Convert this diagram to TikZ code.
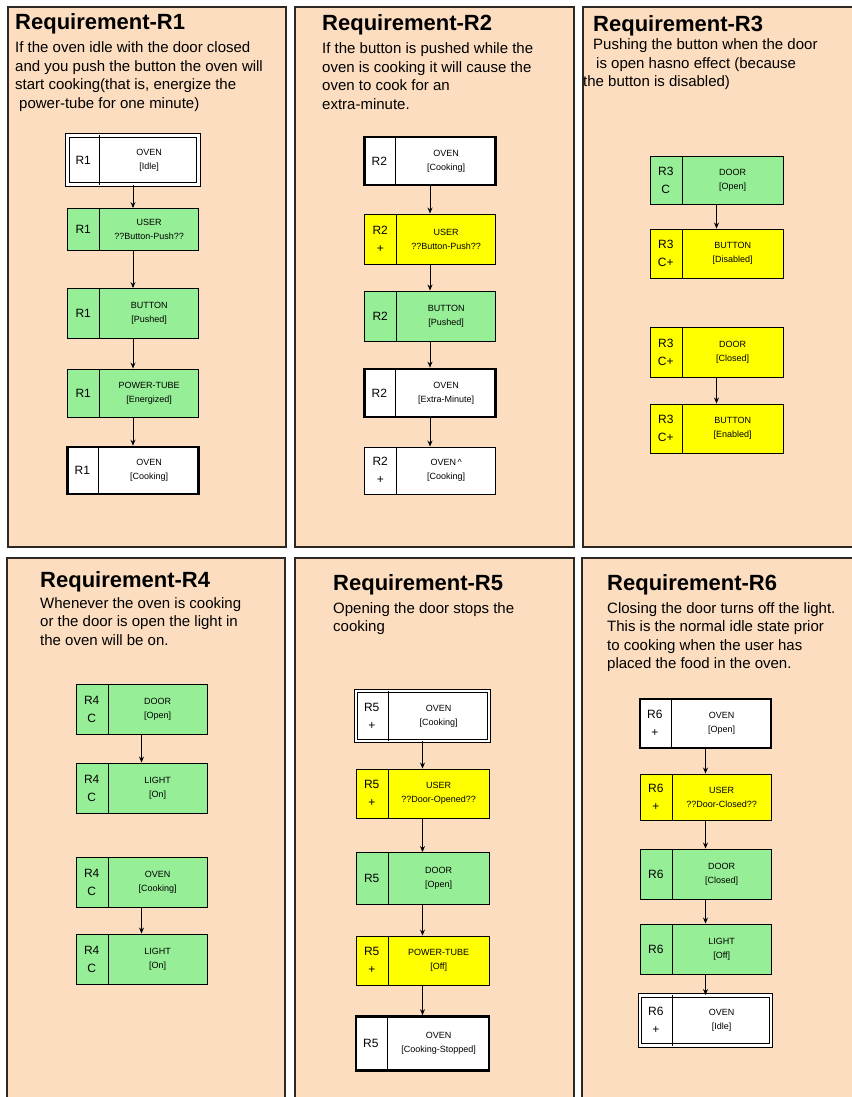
\documentclass[tikz,border=0pt]{standalone}
\usepackage{fontspec}
\setmainfont{Liberation Sans}
\usetikzlibrary{calc, arrows.meta}

\definecolor{peach}{RGB}{252,221,192}
\definecolor{stategreen}{RGB}{150,238,150}
\definecolor{stateyellow}{RGB}{255,255,0}
\definecolor{rim}{RGB}{45,40,35}

\tikzset{
  panel/.style={draw=rim, line width=1.3pt, fill=peach},
  title/.style={anchor=base west, inner sep=0pt, font=\bfseries\fontsize{22}{24}\selectfont},
  blurb/.style={anchor=base west, inner sep=0pt, font=\fontsize{15}{18.5}\selectfont},
  box/.style={draw=black, line width=0.9pt, minimum width=131pt, inner sep=0pt},
  whitebox/.style={fill=white},
  greenbox/.style={fill=stategreen},
  yellowbox/.style={fill=stateyellow},
  heavy/.style={line width=2.6pt},
  twin/.style={double=white, double distance=2.4pt, line width=0.9pt},
  idcell/.style={minimum width=32pt, inner sep=0pt, align=center, font=\fontsize{12}{18}\selectfont},
  boxtext/.style={inner sep=0pt, align=center, font=\fontsize{9}{14}\selectfont},
  flow/.style={->, line width=1pt, draw=black}
}

% name, style, x, y, height, id, text
\newcommand{\statebox}[7]{%
  \node[box, #2, minimum height=#5pt] (#1) at (#3,#4) {};
  \node[idcell, minimum height=#5pt, anchor=west] (#1-id) at (#1.west) {#6};
  \draw[line width=0.9pt] (#1-id.north east) -- (#1-id.south east);
  \node[boxtext] (#1-txt) at ($(#1-id.east)!0.5!(#1.east)$) {#7};
}

\begin{document}
\begin{tikzpicture}[x=1pt, y=-1pt, >={Stealth[length=6pt, width=5pt]}]
  \useasboundingbox (0,0) rectangle (851,1097);
  \fill[white] (0,0) rectangle (851,1097);

  % Panels
  \draw[panel] (8,7) rectangle (286,547);
  \draw[panel] (295,7) rectangle (574,547);
  \draw[panel] (583,7) rectangle (856,547);
  \draw[panel] (7,558) rectangle (285,1102);
  \draw[panel] (295,558) rectangle (574,1102);
  \draw[panel] (582,558) rectangle (856,1102);

  % Requirement R1
  \node[title] (t1) at (15,30) {Requirement-R1};
  \node[blurb] (b1) at (15,53) {\begin{tabular}[t]{@{}l@{}}If the oven idle with the door closed\\
    and you push the button the oven will\\
    start  cooking(that is, energize the\\
    \hspace*{4pt}power-tube for one minute)\end{tabular}};
  \statebox{p1a}{whitebox, twin}{133}{160}{49}{R1}{OVEN\\{[Idle]}}
  \statebox{p1b}{greenbox}{133}{229.5}{42}{R1}{USER\\{??Button-Push??}}
  \statebox{p1c}{greenbox}{133}{313.5}{50}{R1}{BUTTON\\{[Pushed]}}
  \statebox{p1d}{greenbox}{133}{393}{48}{R1}{POWER-TUBE\\{[Energized]}}
  \statebox{p1e}{whitebox, heavy}{133}{470.5}{47}{R1}{OVEN\\{[Cooking]}}
  \draw[flow] (p1a.south) -- (p1b.north);
  \draw[flow] (p1b.south) -- (p1c.north);
  \draw[flow] (p1c.south) -- (p1d.north);
  \draw[flow] (p1d.south) -- (p1e.north);

  % Requirement R2
  \node[title] (t2) at (322,31) {Requirement-R2};
  \node[blurb] (b2) at (322,54) {\begin{tabular}[t]{@{}l@{}}If the button is pushed while the\\
    oven is cooking it will cause the\\
    oven to cook for an\\
    extra-minute.\end{tabular}};
  \statebox{p2a}{whitebox, heavy}{430}{161}{48}{R2}{OVEN\\{[Cooking]}}
  \statebox{p2b}{yellowbox}{430}{239}{50}{R2\\+}{USER\\{??Button-Push??}}
  \statebox{p2c}{greenbox}{430}{316}{50}{R2}{BUTTON\\{[Pushed]}}
  \statebox{p2d}{whitebox, heavy}{430}{393}{48}{R2}{OVEN\\{[Extra-Minute]}}
  \statebox{p2e}{whitebox}{430}{470.5}{47}{R2\\+}{OVEN\,\textasciicircum\\{[Cooking]}}
  \draw[flow] (p2a.south) -- (p2b.north);
  \draw[flow] (p2b.south) -- (p2c.north);
  \draw[flow] (p2c.south) -- (p2d.north);
  \draw[flow] (p2d.south) -- (p2e.north);

  % Requirement R3
  \node[title] (t3) at (593,32) {Requirement-R3};
  \node[blurb] (b3) at (593,50) {\begin{tabular}[t]{@{}l@{}}Pushing the button when the door\\
    \hspace*{3pt}is open hasno effect  (because\\
    \hspace*{-10pt}the button is disabled)\end{tabular}};
  \statebox{p3a}{greenbox, minimum width=133pt}{716.5}{180}{48}{R3\\C}{DOOR\\{[Open]}}
  \statebox{p3b}{yellowbox, minimum width=133pt}{716.5}{253.5}{49}{R3\\C+}{BUTTON\\{[Disabled]}}
  \statebox{p3c}{yellowbox, minimum width=133pt}{716.5}{352}{50}{R3\\C+}{DOOR\\{[Closed]}}
  \statebox{p3d}{yellowbox, minimum width=133pt}{716.5}{428.5}{49}{R3\\C+}{BUTTON\\{[Enabled]}}
  \draw[flow] (p3a.south) -- (p3b.north);
  \draw[flow] (p3c.south) -- (p3d.north);

  % Requirement R4
  \node[title] (t4) at (40,587) {Requirement-R4};
  \node[blurb] (b4) at (40,608) {\begin{tabular}[t]{@{}l@{}}Whenever the oven is cooking\\
    or the door is open the light in\\
    the oven will be on.\end{tabular}};
  \statebox{p4a}{greenbox}{141.5}{709}{50}{R4\\C}{DOOR\\{[Open]}}
  \statebox{p4b}{greenbox}{141.5}{788}{50}{R4\\C}{LIGHT\\{[On]}}
  \statebox{p4c}{greenbox}{141.5}{882}{50}{R4\\C}{OVEN\\{[Cooking]}}
  \statebox{p4d}{greenbox}{141.5}{959}{50}{R4\\C}{LIGHT\\{[On]}}
  \draw[flow] (p4a.south) -- (p4b.north);
  \draw[flow] (p4c.south) -- (p4d.north);

  % Requirement R5
  \node[title] (t5) at (333,590) {Requirement-R5};
  \node[blurb] (b5) at (333,613) {\begin{tabular}[t]{@{}l@{}}Opening the door stops the\\
    cooking\end{tabular}};
  \statebox{p5a}{whitebox, twin, minimum width=133pt}{422.5}{716}{50}{R5\\+}{OVEN\\{[Cooking]}}
  \statebox{p5b}{yellowbox, minimum width=133pt}{422.5}{793.5}{49}{R5\\+}{USER\\{??Door-Opened??}}
  \statebox{p5c}{greenbox, minimum width=133pt}{422.5}{878.5}{52}{R5}{DOOR\\{[Open]}}
  \statebox{p5d}{yellowbox, minimum width=133pt}{422.5}{960.5}{49}{R5\\+}{POWER-TUBE\\{[Off]}}
  \statebox{p5e}{whitebox, heavy, minimum width=133pt}{422.5}{1043.5}{54}{R5}{OVEN\\{[Cooking-Stopped]}}
  \draw[flow] (p5a.south) -- (p5b.north);
  \draw[flow] (p5b.south) -- (p5c.north);
  \draw[flow] (p5c.south) -- (p5d.north);
  \draw[flow] (p5d.south) -- (p5e.north);

  % Requirement R6
  \node[title] (t6) at (607,590) {Requirement-R6};
  \node[blurb] (b6) at (607,613) {\begin{tabular}[t]{@{}l@{}}Closing the door turns off the light.\\
    This is the normal idle state prior\\
    to cooking when the user has\\
    placed the food in the oven.\end{tabular}};
  \statebox{p6a}{whitebox, heavy}{705.5}{723.5}{49}{R6\\+}{OVEN\\{[Open]}}
  \statebox{p6b}{yellowbox}{705.5}{797}{46}{R6\\+}{USER\\{??Door-Closed??}}
  \statebox{p6c}{greenbox}{705.5}{874}{50}{R6}{DOOR\\{[Closed]}}
  \statebox{p6d}{greenbox}{705.5}{949}{50}{R6}{LIGHT\\{[Off]}}
  \statebox{p6e}{whitebox, twin}{705.5}{1020.5}{50}{R6\\+}{OVEN\\{[Idle]}}
  \draw[flow] (p6a.south) -- (p6b.north);
  \draw[flow] (p6b.south) -- (p6c.north);
  \draw[flow] (p6c.south) -- (p6d.north);
  \draw[flow] (p6d.south) -- (p6e.north);
\end{tikzpicture}
\end{document}
